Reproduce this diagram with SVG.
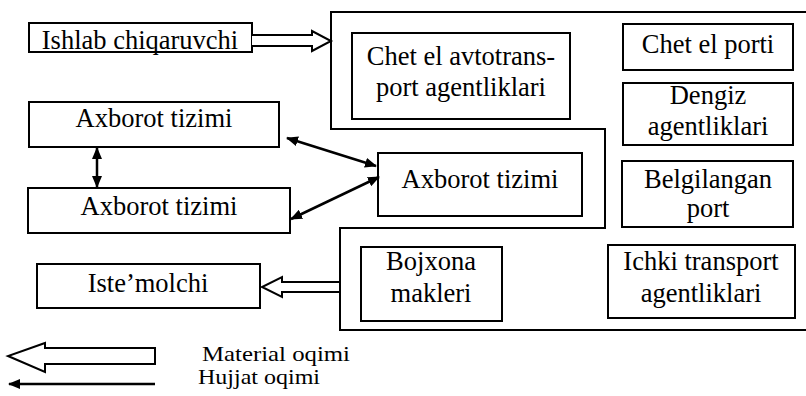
<svg xmlns="http://www.w3.org/2000/svg" width="806" height="396" viewBox="0 0 806 396">
<style>
.box{fill:#fff;stroke:#000;stroke-width:2}
.frame{fill:none;stroke:#000;stroke-width:2}
.t{font-family:"Liberation Serif","Times New Roman",serif;font-size:26.5px;fill:#000;text-anchor:middle}
.lg{font-family:"Liberation Serif","Times New Roman",serif;font-size:21px;fill:#000}
.hollow{fill:#fff;stroke:#000;stroke-width:2;stroke-linejoin:miter}
.doc{fill:none;stroke:#000;stroke-width:2.5}
</style>
<defs>
<marker id="ah" viewBox="0 0 12 10" refX="11" refY="5" markerWidth="12" markerHeight="10" markerUnits="userSpaceOnUse" orient="auto-start-reverse">
<path d="M0,0 L12,5 L0,10 Z" fill="#000"/>
</marker>
</defs>
<g id="frame">
<path class="frame" d="M806,12 L331,12 L331,129 L605,129 L605,228 L340,228 L340,330 L806,330"/>
</g>
<g id="ishlab"><rect class="box" x="29" y="23" width="223" height="29"/><text class="t" x="140" y="49">Ishlab chiqaruvchi</text></g>
<g id="chet-avto"><rect class="box" x="352" y="33" width="218" height="86"/><text class="t" x="461" y="65">Chet el avtotrans-</text><text class="t" x="461" y="96">port agentliklari</text></g>
<g id="chet-porti"><rect class="box" x="623" y="24" width="170" height="46"/><text class="t" x="708" y="53">Chet el porti</text></g>
<g id="dengiz"><rect class="box" x="623" y="83" width="170" height="62"/><text class="t" x="708" y="104">Dengiz</text><text class="t" x="708" y="135">agentliklari</text></g>
<g id="axborot1"><rect class="box" x="29" y="102" width="250" height="45"/><text class="t" x="154" y="127">Axborot tizimi</text></g>
<g id="axborot2"><rect class="box" x="28" y="188" width="262" height="45"/><text class="t" x="159" y="215">Axborot tizimi</text></g>
<g id="axborot3"><rect class="box" x="378" y="153" width="204" height="63"/><text class="t" x="480" y="188">Axborot tizimi</text></g>
<g id="belgilangan"><rect class="box" x="622" y="161" width="171" height="66"/><text class="t" x="708" y="188">Belgilangan</text><text class="t" x="708" y="217">port</text></g>
<g id="istemolchi"><rect class="box" x="37" y="264" width="223" height="44"/><text class="t" x="148" y="292">Iste’molchi</text></g>
<g id="bojxona"><rect class="box" x="361" y="247" width="141" height="74"/><text class="t" x="431" y="270">Bojxona</text><text class="t" x="431" y="302">makleri</text></g>
<g id="ichki"><rect class="box" x="608" y="245" width="187" height="73"/><text class="t" x="701" y="270">Ichki transport</text><text class="t" x="701" y="302">agentliklari</text></g>
<g id="connectors">
<path class="hollow" d="M252,35 L312,35 L312,31 L331,41 L312,51 L312,46 L252,46"/>
<path class="hollow" d="M339,282 L282,282 L282,277 L262,287 L282,297 L282,292 L339,292"/>
<line class="doc" x1="97" y1="148" x2="97" y2="187" marker-start="url(#ah)" marker-end="url(#ah)"/>
<line class="doc" x1="287" y1="138" x2="376" y2="166" marker-start="url(#ah)" marker-end="url(#ah)"/>
<line class="doc" x1="291" y1="219" x2="379" y2="177" marker-start="url(#ah)" marker-end="url(#ah)"/>
</g>
<g id="legend">
<path class="hollow" d="M155,348 L155,364 L45,364 L45,372 L8,356 L45,343 L45,348 Z"/>
<line class="doc" x1="155" y1="384" x2="9" y2="384" marker-end="url(#ah)"/>
<text class="lg" x="202" y="361" textLength="148" lengthAdjust="spacingAndGlyphs">Material oqimi</text>
<text class="lg" x="198" y="384" textLength="122" lengthAdjust="spacingAndGlyphs">Hujjat oqimi</text>
</g>
</svg>
